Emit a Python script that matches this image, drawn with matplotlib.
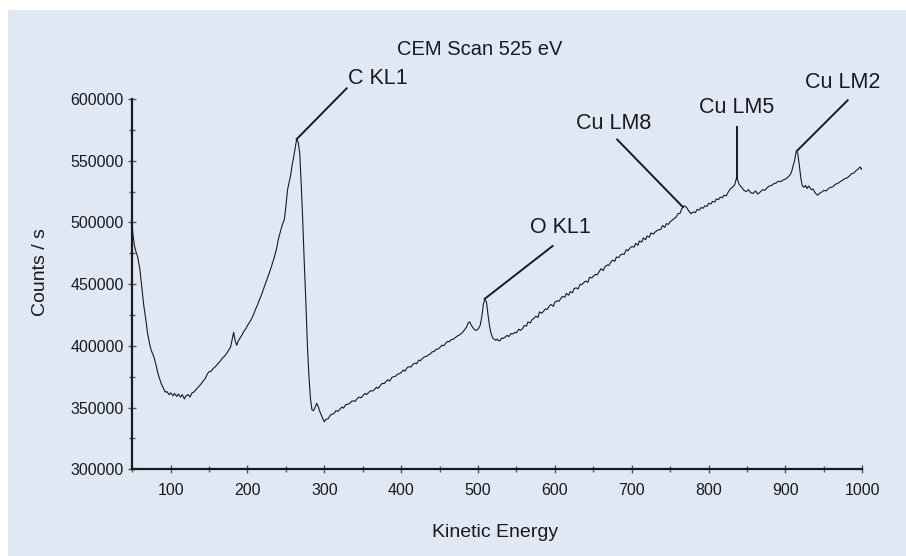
import matplotlib
matplotlib.use("Agg")
import matplotlib.pyplot as plt
from matplotlib.ticker import MultipleLocator, FixedLocator
from matplotlib.patches import Rectangle

plt.rcParams['font.family'] = ['Liberation Sans', 'DejaVu Sans']

# ---- data (Kinetic energy [eV], counts/s) ----
energy = [50, 51, 53, 55, 57, 60, 63, 65, 68, 70, 73, 75, 78, 80, 83, 85, 88, 90, 93, 95,
          98, 100, 103, 105, 108, 110, 113, 115, 118, 120, 123, 125, 128, 130, 133, 135, 138, 140, 143, 145,
          148, 150, 153, 155, 158, 160, 163, 165, 168, 170, 173, 175, 178, 180, 182, 184, 186, 188, 190, 193,
          195, 198, 200, 203, 205, 208, 210, 213, 215, 218, 220, 223, 225, 228, 230, 233, 235, 238, 240, 243,
          245, 248, 250, 252, 254, 256, 258, 260, 262, 264, 266, 268, 270, 272, 274, 276, 278, 280, 282, 284,
          286, 288, 290, 292, 294, 296, 298, 300, 302, 305, 308, 310, 313, 315, 318, 320, 323, 325, 328, 330,
          333, 335, 338, 340, 343, 345, 348, 350, 353, 355, 358, 360, 363, 365, 368, 370, 373, 375, 378, 380,
          383, 385, 388, 390, 393, 395, 398, 400, 403, 405, 408, 410, 413, 415, 418, 420, 423, 425, 428, 430,
          433, 435, 438, 440, 443, 445, 448, 450, 453, 455, 458, 460, 463, 465, 468, 470, 473, 475, 478, 480,
          483, 485, 487, 489, 491, 493, 495, 497, 499, 501, 503, 505, 507, 509, 511, 513, 515, 517, 519, 521,
          523, 525, 527, 529, 531, 533, 535, 538, 540, 543, 545, 548, 550, 553, 555, 558, 560, 563, 565, 568,
          570, 573, 575, 578, 580, 583, 585, 588, 590, 593, 595, 598, 600, 603, 605, 608, 610, 613, 615, 618,
          620, 623, 625, 628, 630, 633, 635, 638, 640, 643, 645, 648, 650, 653, 655, 658, 660, 663, 665, 668,
          670, 673, 675, 678, 680, 683, 685, 688, 690, 693, 695, 698, 700, 703, 705, 708, 710, 713, 715, 718,
          720, 723, 725, 728, 730, 733, 735, 738, 740, 743, 745, 748, 750, 753, 755, 758, 760, 763, 765, 768,
          771, 774, 777, 780, 783, 785, 788, 790, 793, 795, 798, 800, 803, 805, 808, 810, 813, 815, 818, 820,
          823, 825, 828, 831, 834, 836, 838, 840, 843, 846, 849, 852, 855, 858, 861, 864, 867, 870, 873, 876,
          879, 882, 885, 888, 891, 894, 897, 900, 903, 906, 908, 910, 912, 914, 916, 918, 920, 922, 924, 926,
          928, 930, 932, 934, 936, 938, 940, 942, 944, 947, 950, 953, 956, 959, 962, 965, 968, 971, 974, 977,
          980, 983, 986, 989, 992, 995, 997, 999, 1000]
counts = [497000, 490000, 481000, 476000, 472500, 462000, 445000, 433000, 420000, 410000, 400500, 396000, 391500, 387000, 379000, 374500, 369000, 366500, 362500, 363000,
          360500, 362000, 359500, 361500, 359000, 361000, 358500, 360500, 357000, 359500, 360500, 358500, 362000, 362500, 364500, 366000, 368000, 369500, 372000, 373500,
          377500, 379000, 379500, 381500, 383000, 384500, 386500, 388000, 390500, 391500, 394000, 396000, 399000, 405000, 411000, 404000, 400500, 404000, 406000, 409000,
          411500, 414000, 416500, 419500, 421500, 425500, 429000, 433000, 436500, 441000, 444500, 449500, 453000, 458500, 462000, 468000, 472000, 479000, 486000, 493000,
          497500, 502500, 513000, 526000, 532000, 537500, 546000, 552500, 560000, 567500, 565000, 556000, 530000, 500000, 466000, 435000, 400000, 375000, 357000, 348000,
          347500, 350000, 353500, 351000, 347000, 344000, 341000, 338500, 340500, 341000, 344000, 344500, 345500, 347500, 347000, 348500, 350500, 349500, 352500, 352500,
          353500, 355000, 355500, 355000, 357500, 358500, 358000, 359500, 361500, 360500, 362500, 363500, 363500, 364500, 366500, 365500, 368000, 369500, 369500, 371000,
          372500, 371500, 374500, 375000, 375500, 377000, 377500, 378500, 380500, 379500, 382500, 383000, 383000, 385000, 386000, 385500, 388500, 388000, 390000, 391000,
          391500, 392500, 393500, 395000, 395500, 397000, 397500, 398500, 400500, 400000, 402000, 403500, 403500, 405000, 405500, 406500, 408000, 408500, 410000, 411000,
          413500, 415000, 418500, 419500, 417000, 415000, 413500, 412500, 413000, 414500, 417000, 424000, 434000, 437500, 435500, 425000, 416000, 410000, 406500, 405500,
          404500, 405500, 404000, 404500, 406500, 406000, 407000, 408500, 407500, 410000, 409500, 411000, 410500, 413500, 412500, 414000, 416500, 416000, 419500, 418500,
          421000, 422500, 424000, 423000, 427500, 426500, 428000, 430000, 429500, 432500, 433500, 432000, 435500, 436500, 436000, 438500, 440000, 439500, 442500, 441000,
          444000, 443000, 446500, 447000, 446000, 450000, 449500, 451500, 452500, 451500, 455500, 455000, 456500, 458000, 457500, 460500, 462500, 461000, 464000, 465500,
          465000, 468000, 469500, 468500, 472000, 471500, 473500, 474500, 474000, 478000, 477000, 479500, 480500, 480000, 483000, 481500, 485000, 484000, 487500, 486000,
          489000, 488000, 491500, 490500, 492000, 493500, 494000, 494500, 497500, 496000, 499000, 498500, 500500, 502000, 503000, 504500, 507000, 507500, 511000, 513500,
          512500, 509500, 507000, 508500, 508000, 510500, 510000, 512000, 511500, 513500, 513000, 515500, 515000, 517000, 516500, 519000, 518500, 520500, 520000, 522000,
          521500, 524000, 527000, 528500, 530500, 535500, 534000, 530500, 528500, 526000, 525000, 526500, 524000, 523500, 525500, 523000, 524500, 526500, 526000, 528000,
          529500, 530000, 531500, 532000, 533500, 533000, 534500, 535000, 536500, 538500, 541000, 546000, 550500, 557500, 556000, 546500, 536000, 529500, 528500, 530000,
          527500, 529500, 528000, 526500, 527000, 524500, 523000, 522000, 523500, 524500, 526000, 525500, 527500, 528500, 529000, 531000, 531500, 533000, 534000, 535500,
          536000, 537500, 539500, 540000, 542000, 543500, 545000, 543000, 544000]

# peak labels: text, peak point, leader-line end, text position
peak_names = ["C KL1", "O KL1", "Cu LM8", "Cu LM5", "Cu LM2"]
peak_xy = [(264, 567500), (508.5, 438000), (766.5, 512500), (837, 535500), (915, 558000)]
line_end = [(329, 608600), (597, 480900), (681, 567200), (837, 577000), (981, 599000)]
text_xy = [(331, 617000), (568, 496000), (676, 580000), (837, 593000), (975, 613000)]
text_ha = ["left", "left", "center", "center", "center"]

xticks = [100, 200, 300, 400, 500, 600, 700, 800, 900, 1000]
yticks = [300000, 350000, 400000, 450000, 500000, 550000, 600000]

W, H = 906, 556
fig = plt.figure(figsize=(W / 100, H / 100), dpi=100, facecolor="white")
fig.patches.append(Rectangle((8 / W, 0), 1, 1 - 10 / H, transform=fig.transFigure,
                             facecolor="#e1e8f5", edgecolor="none", zorder=-10))

ax = fig.add_axes([132.2 / W, 1 - 469.3 / H, 730.1 / W, 370.3 / H])
ax.set_facecolor("none")
ax.plot(energy, counts, color="#1a1a1a", lw=0.8)

ax.set_xlim(50, 1000)
ax.set_ylim(300000, 600000)
ax.xaxis.set_major_locator(FixedLocator(xticks))
ax.xaxis.set_minor_locator(MultipleLocator(50))
ax.yaxis.set_major_locator(FixedLocator(yticks))
ax.yaxis.set_minor_locator(MultipleLocator(25000))
ax.set_xticklabels([str(t) for t in xticks])
ax.set_yticklabels([str(t) for t in yticks])

for s in ["top", "right"]:
    ax.spines[s].set_visible(False)
for s in ["left", "bottom"]:
    ax.spines[s].set_linewidth(1.6)
    ax.spines[s].set_color("#1a1a1a")

ax.tick_params(which="major", direction="inout", length=6, width=1, color="#555555",
               labelsize=11.5, labelcolor="#1a1a1a")
ax.tick_params(which="minor", direction="inout", length=5, width=1, color="#555555")
ax.tick_params(axis="x", which="major", pad=7)
ax.tick_params(axis="y", which="major", pad=3)

ax.set_xlabel("Kinetic Energy", fontsize=14, color="#1a1a1a")
ax.set_ylabel("Counts / s", fontsize=14, color="#1a1a1a")
ax.xaxis.set_label_coords(0.4976, -0.148)
ax.yaxis.set_label_coords(-0.114, 0.533)

for name, p, e, t, ha in zip(peak_names, peak_xy, line_end, text_xy, text_ha):
    ax.plot([p[0], e[0]], [p[1], e[1]], color="#1a1a1a", lw=1.4, clip_on=False)
    ax.text(t[0], t[1], name, ha=ha, va="center", fontsize=15.5, color="#1a1a1a")

fig.text(480 / W, 1 - 49.6 / H, "CEM Scan 525 eV", ha="center", va="center",
         fontsize=14.5, color="#1a1a1a")

fig.savefig("out.png", dpi=100, facecolor=fig.get_facecolor())
